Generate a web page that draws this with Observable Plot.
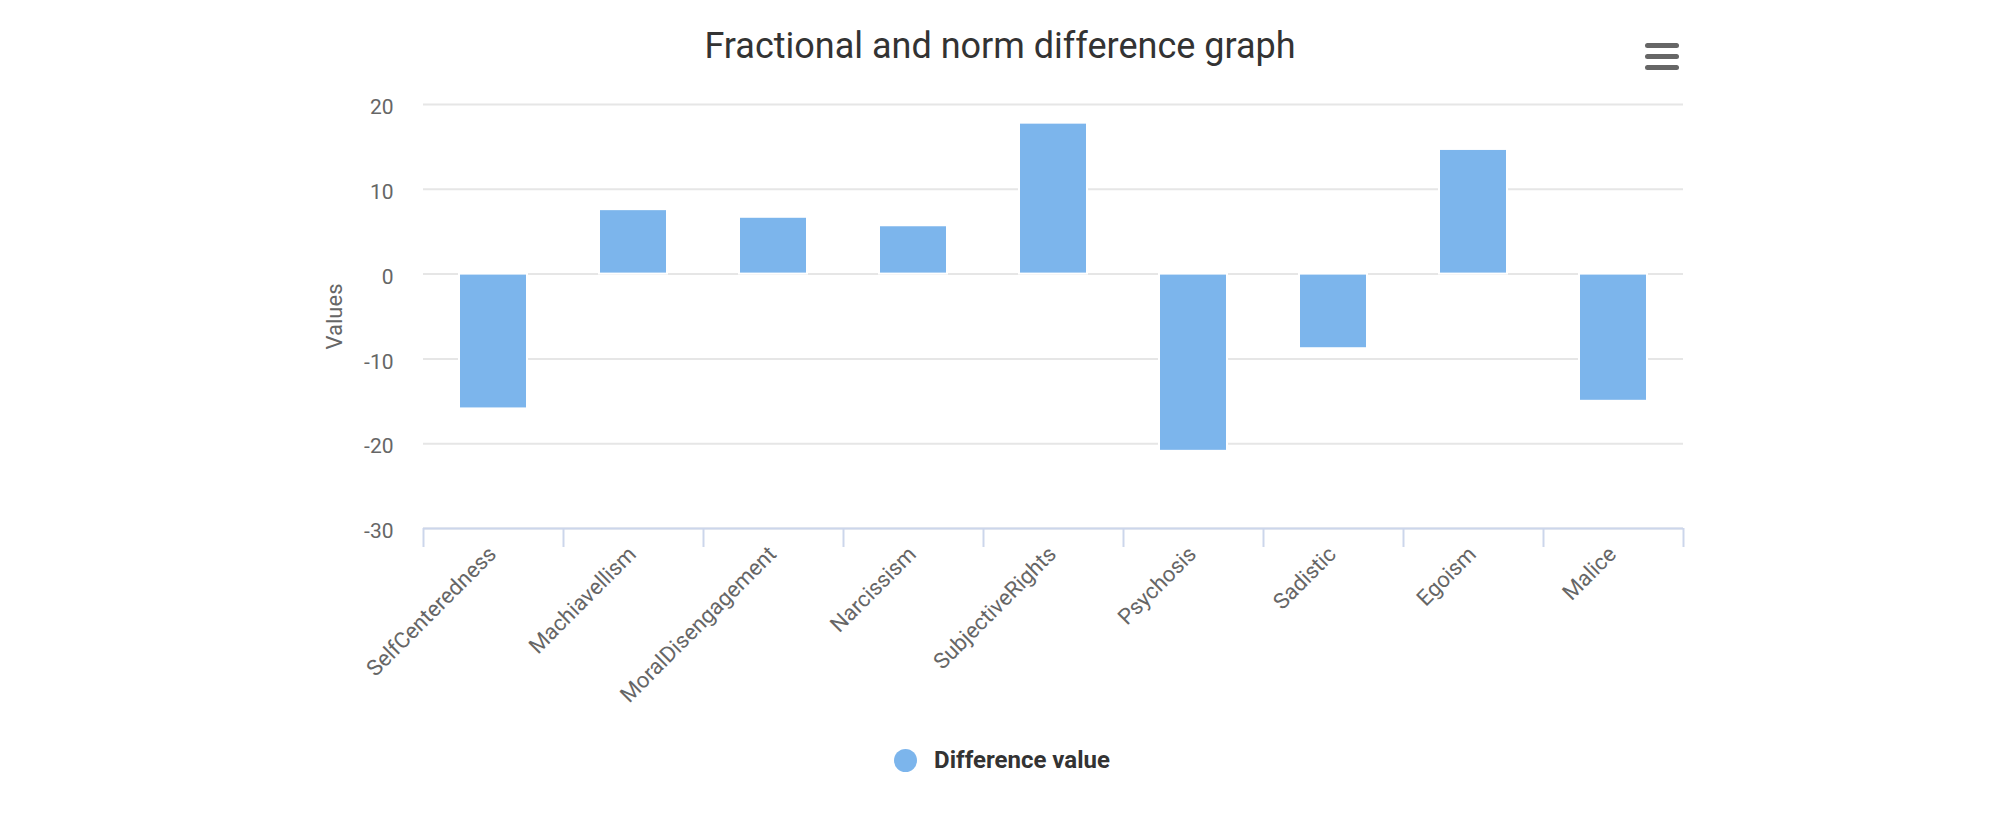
<!DOCTYPE html>
<html>
<head>
<meta charset="utf-8">
<script src="https://cdn.jsdelivr.net/npm/d3@7"></script>
<script src="https://cdn.jsdelivr.net/npm/@observablehq/plot@0.6"></script>
<style>
  html, body { margin: 0; padding: 0; background: #fff; }
  #wrap { position: relative; width: 2000px; height: 815px; font-family: Roboto, "Noto Sans", sans-serif; overflow: hidden; }
  #title { position: absolute; left: 0; width: 2000px; top: 24px; text-align: center; font-size: 36px; color: #333333; line-height: 44px; }
  #chart { position: absolute; left: 0; top: 0; }
  #legend { position: absolute; top: 746px; left: 0; width: 2000px; display: flex; justify-content: center; align-items: center; }
  #legend .item { display: flex; align-items: center; transform: translateX(2px); }
  #legend .dot { width: 23px; height: 23px; border-radius: 50%; background: #7cb5ec; margin-right: 17px; }
  #legend .lbl { font-size: 24px; font-weight: bold; color: #333333; line-height: 28px; }
  #menu { position: absolute; left: 1645px; top: 43px; width: 34px; }
  #menu div { height: 5px; border-radius: 3px; background: #666666; margin-bottom: 6px; }
</style>
</head>
<body>
<div id="wrap">
  <div id="chart"></div>
  <div id="title">Fractional and norm difference graph</div>
  <div id="menu"><div></div><div></div><div></div></div>
  <div id="legend"><div class="item"><div class="dot"></div><div class="lbl">Difference value</div></div></div>
</div>
<script>
const categories = ["SelfCenteredness", "Machiavellism", "MoralDisengagement", "Narcissism", "SubjectiveRights", "Psychosis", "Sadistic", "Egoism", "Malice"];
const values = [-15.9, 7.6, 6.7, 5.7, 17.8, -20.9, -8.8, 14.7, -15.0];
const yTicks = [-30, -20, -10, 0, 10, 20];
const seriesName = "Difference value";
const yTitle = "Values";

const data = categories.map((c, i) => ({category: c, index: i, value: values[i]}));
const boundaries = d3.range(0, categories.length + 1);

const chart = Plot.plot({
  width: 2000,
  height: 815,
  marginTop: 104,
  marginBottom: 287,
  marginLeft: 423,
  marginRight: 317,
  style: {fontFamily: "Roboto, 'Noto Sans', sans-serif", background: "transparent"},
  x: {type: "linear", domain: [0, categories.length], axis: null},
  y: {domain: [-30, 20], axis: null},
  marks: [
    Plot.gridY(yTicks, {stroke: "#e6e6e6", strokeOpacity: 1, strokeWidth: 2}),
    Plot.rectY(data, {
      x1: "index",
      x2: d => d.index + 1,
      y1: 0,
      y2: "value",
      insetLeft: 36,
      insetRight: 36,
      fill: "#7cb5ec",
      stroke: "#ffffff",
      strokeWidth: 2
    }),
    Plot.ruleY([-30], {stroke: "#ccd6eb", strokeWidth: 2}),
    Plot.axisX(boundaries, {
      anchor: "bottom",
      tickSize: 19,
      tickFormat: () => "",
      label: null,
      stroke: "#ccd6eb",
      strokeWidth: 2,
      strokeOpacity: 1
    }),
    Plot.text(data, {
      x: d => d.index + 0.5,
      y: -30,
      text: "category",
      rotate: -45,
      textAnchor: "end",
      lineAnchor: "middle",
      dx: -1,
      dy: 22,
      fontSize: 22,
      fill: "#666666"
    }),
    Plot.axisY(yTicks, {
      anchor: "left",
      tickSize: 0,
      tickPadding: 30,
      tickFormat: d => String(d),
      fontSize: 21,
      fill: "#666666",
      dy: 3,
      label: null
    }),
    Plot.text([yTitle], {
      frameAnchor: "left",
      dx: -89,
      rotate: -90,
      text: d => d,
      textAnchor: "middle",
      lineAnchor: "middle",
      fontSize: 22,
      fill: "#666666"
    })
  ]
});
document.getElementById("chart").appendChild(chart);
</script>
</body>
</html>
